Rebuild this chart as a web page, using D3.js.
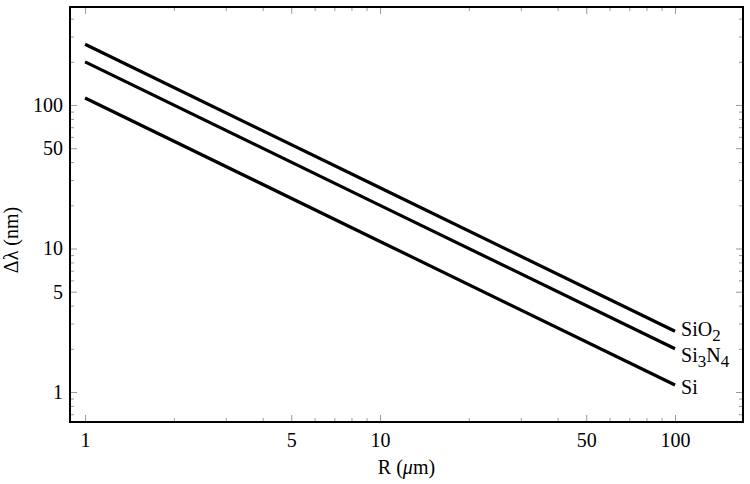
<!DOCTYPE html>
<html>
<head>
<meta charset="utf-8">
<script src="https://cdn.jsdelivr.net/npm/d3@7"></script>
<style>
  body { margin: 0; background: #fff; }
  svg text { font-family: "Liberation Serif", "Times New Roman", serif; fill: #000; }
</style>
</head>
<body>
<div class="chartHolder"></div>
<script>
var width = 750;
var height = 484;

// data
var radius = [1, 10, 100];
var si = [112, 11.2, 1.12];
var si3n4 = [200, 20, 2.0];
var sio2 = [265, 26.5, 2.65];

var majorTicks = [1, 5, 10, 50, 100];
var xMinorTicks = [2, 3, 4, 6, 7, 8, 9, 20, 30, 40, 60, 70, 80, 90];
var yMinorTicks = [0.7, 0.8, 0.9, 2, 3, 4, 6, 7, 8, 9, 20, 30, 40, 60, 70, 80, 90, 200, 300, 400];

var plotLeft = 70, plotRight = 743, plotTop = 7, plotBottom = 422;

var svgContainer = d3
  .select(".chartHolder")
  .append("svg")
  .attr("width", width)
  .attr("height", height);

var xScale = d3.scaleLog().domain([0.889, 170]).range([plotLeft, plotRight]);
var yScale = d3.scaleLog().domain([0.618, 482]).range([plotBottom, plotTop]);

// ticks: mirrored on all four sides, pointing inward
function tickGroup(axis, tx, ty) {
  var g = svgContainer.append("g").attr("transform", "translate(" + tx + "," + ty + ")").call(axis);
  g.select(".domain").remove();
  g.attr("font-family", null).attr("font-size", null);
  g.selectAll(".tick line").attr("stroke", "#9a9a9a").attr("stroke-width", 1);
  return g;
}

// bottom
var xb = tickGroup(d3.axisBottom(xScale).tickValues(majorTicks).tickSize(-7).tickPadding(11)
  .tickFormat(d3.format("d")), 0, plotBottom);
xb.selectAll("text").style("font-size", "20px");
tickGroup(d3.axisBottom(xScale).tickValues(xMinorTicks).tickSize(-4).tickFormat(""), 0, plotBottom);
// top
tickGroup(d3.axisTop(xScale).tickValues(majorTicks).tickSize(-7).tickFormat(""), 0, plotTop);
tickGroup(d3.axisTop(xScale).tickValues(xMinorTicks).tickSize(-4).tickFormat(""), 0, plotTop);
// left
var yl = tickGroup(d3.axisLeft(yScale).tickValues(majorTicks).tickSize(-7).tickPadding(7)
  .tickFormat(d3.format("d")), plotLeft, 0);
yl.selectAll("text").style("font-size", "20px");
tickGroup(d3.axisLeft(yScale).tickValues(yMinorTicks).tickSize(-4).tickFormat(""), plotLeft, 0);
// right
tickGroup(d3.axisRight(yScale).tickValues(majorTicks).tickSize(-7).tickFormat(""), plotRight, 0);
tickGroup(d3.axisRight(yScale).tickValues(yMinorTicks).tickSize(-4).tickFormat(""), plotRight, 0);

// frame
svgContainer.append("rect")
  .attr("x", plotLeft).attr("y", plotTop)
  .attr("width", plotRight - plotLeft).attr("height", plotBottom - plotTop)
  .attr("fill", "none").attr("stroke", "#000").attr("stroke-width", 2);

// lines
var line = d3.line()
  .x((d, i) => xScale(radius[i]))
  .y((d) => yScale(d));

var series = [
  { name: "SiO", sub: "2", values: sio2, dy: 5 },
  { name: "Si", sub: "3", sub2: "N", sub3: "4", values: si3n4, dy: 13 },
  { name: "Si", values: si, dy: 9 }
];

svgContainer.selectAll("path.series")
  .data(series)
  .enter()
  .append("path")
  .attr("class", "series")
  .attr("d", (d) => line(d.values))
  .attr("fill", "none")
  .attr("stroke", "#000")
  .attr("stroke-width", 3.2);

// end labels
series.forEach(function (s) {
  var last = s.values.length - 1;
  var t = svgContainer.append("text")
    .attr("x", xScale(radius[last]) + 6)
    .attr("y", yScale(s.values[last]) + s.dy)
    .style("font-size", "20px");
  t.append("tspan").text(s.name);
  if (s.sub) {
    t.append("tspan").attr("dy", 5).style("font-size", "17px").text(s.sub);
    if (s.sub2) {
      t.append("tspan").attr("dy", -5).style("font-size", "20px").text(s.sub2);
      t.append("tspan").attr("dy", 5).style("font-size", "17px").text(s.sub3);
    }
  }
});

// axis titles
var xt = svgContainer.append("text")
  .attr("x", (plotLeft + plotRight) / 2).attr("y", 474)
  .attr("text-anchor", "middle")
  .style("font-size", "20px");
xt.append("tspan").text("R (");
xt.append("tspan").style("font-style", "italic").text("\u03bc");
xt.append("tspan").text("m)");

svgContainer.append("text")
  .attr("transform", "translate(18,240) rotate(-90)")
  .attr("text-anchor", "middle")
  .style("font-size", "20px")
  .text("\u0394\u03bb (nm)");
</script>
</body>
</html>
